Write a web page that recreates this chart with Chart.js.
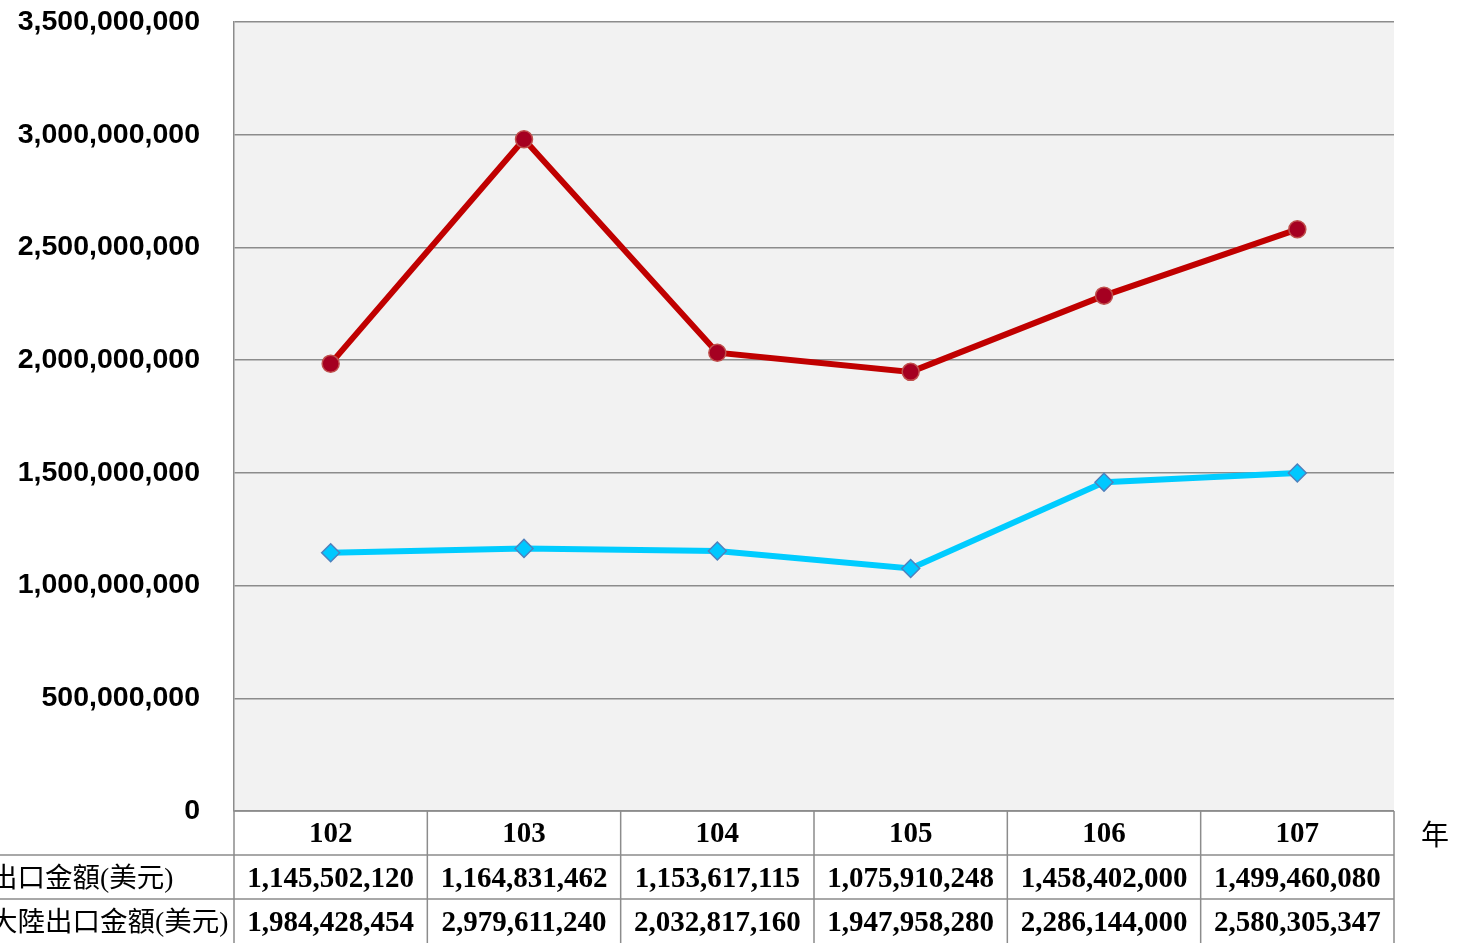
<!DOCTYPE html>
<html>
<head>
<meta charset="utf-8">
<title>出口金額</title>
<script src="https://cdn.jsdelivr.net/npm/chart.js"></script>
<style>
  html, body { margin: 0; padding: 0; background: #fff; }
  #wrap { width: 1461px; height: 943px; }
</style>
</head>
<body>
<div id="wrap"><canvas id="chart" width="1461" height="943"></canvas></div>
<script>
const years = ["102", "103", "104", "105", "106", "107"];
const rowLabels = ["出口金額(美元)", "大陸出口金額(美元)"];
const exportTotal = [1145502120, 1164831462, 1153617115, 1075910248, 1458402000, 1499460080];
const exportMainland = [1984428454, 2979611240, 2032817160, 1947958280, 2286144000, 2580305347];
const yTicks = [0, 500000000, 1000000000, 1500000000, 2000000000, 2500000000, 3000000000, 3500000000];

const fmt = v => v.toLocaleString("en-US");
const lineGray = "#8c8c8c";
const rowH = 44;

const plotBg = {
  id: "plotBg",
  beforeDraw(chart) {
    const { ctx, chartArea: a } = chart;
    ctx.save();
    ctx.fillStyle = "#f2f2f2";
    ctx.fillRect(a.left, a.top, a.right - a.left, a.bottom - a.top);
    ctx.restore();
  }
};

// data table under the plot, columns follow the x scale
const dataTable = {
  id: "dataTable",
  afterDraw(chart) {
    const { ctx, chartArea: a, scales: { x } } = chart;
    const colW = (a.right - a.left) / years.length;
    ctx.save();
    ctx.strokeStyle = lineGray;
    ctx.lineWidth = 1.5;
    ctx.beginPath();
    for (let i = 0; i <= years.length; i++) {
      const px = a.left + i * colW;
      ctx.moveTo(px, a.bottom);
      ctx.lineTo(px, a.bottom + rowH * 3);
    }
    ctx.moveTo(a.left, a.bottom);
    ctx.lineTo(a.right, a.bottom);
    ctx.moveTo(0, a.bottom + rowH);
    ctx.lineTo(a.right, a.bottom + rowH);
    ctx.moveTo(0, a.bottom + rowH * 2);
    ctx.lineTo(a.right, a.bottom + rowH * 2);
    ctx.stroke();

    ctx.fillStyle = "#000";
    ctx.textBaseline = "middle";
    ctx.textAlign = "center";
    ctx.font = "bold 29px 'Liberation Serif', serif";
    years.forEach((y, i) => {
      const cx = x.getPixelForValue(i);
      ctx.fillText(y, cx, a.bottom + rowH * 0.5 + 2);
      ctx.fillText(fmt(exportTotal[i]), cx, a.bottom + rowH * 1.5 + 3);
      ctx.fillText(fmt(exportMainland[i]), cx, a.bottom + rowH * 2.5 + 3);
    });

    ctx.textAlign = "left";
    ctx.font = "27.5px 'Liberation Serif', 'Noto Sans CJK TC', serif";
    ctx.fillText(rowLabels[0], -10, a.bottom + rowH * 1.5 + 3);
    ctx.fillText(rowLabels[1], -10, a.bottom + rowH * 2.5 + 3);

    ctx.font = "28px 'Noto Sans CJK TC', sans-serif";
    ctx.textAlign = "center";
    ctx.fillText("年", 1435, a.bottom + rowH * 0.5 + 1);
    ctx.restore();
  }
};

new Chart(document.getElementById("chart"), {
  type: "line",
  data: {
    labels: years,
    datasets: [
      {
        label: rowLabels[1],
        data: exportMainland,
        borderColor: "#c00000",
        borderWidth: 6,
        pointStyle: "circle",
        pointRadius: 8.5,
        pointBackgroundColor: "#a50021",
        pointBorderColor: "#c0504d",
        pointBorderWidth: 1.5,
        tension: 0
      },
      {
        label: rowLabels[0],
        data: exportTotal,
        borderColor: "#00ccff",
        borderWidth: 6,
        pointStyle: "rectRot",
        pointRadius: 9,
        pointBackgroundColor: "#00c8ff",
        pointBorderColor: "#4f81bd",
        pointBorderWidth: 1.5,
        tension: 0
      }
    ]
  },
  options: {
    responsive: false,
    animation: false,
    layout: { padding: { top: 22, right: 67, bottom: 132, left: 0 } },
    plugins: {
      legend: { display: false },
      tooltip: { enabled: false }
    },
    scales: {
      x: {
        type: "category",
        display: false,
        offset: true
      },
      y: {
        min: 0,
        max: 3500000000,
        afterFit(scale) {
          scale.width = 234;
          scale.paddingTop = 0;
          scale.paddingBottom = 0;
        },
        afterBuildTicks(scale) { scale.ticks = yTicks.map(v => ({ value: v })); },
        border: { display: true, color: lineGray, width: 1.5 },
        grid: { color: lineGray, lineWidth: 1.5, drawTicks: false },
        ticks: {
          padding: 34,
          color: "#000",
          font: { family: "'Liberation Sans', Arial, sans-serif", size: 28.5, weight: "bold" },
          callback: v => fmt(v)
        }
      }
    }
  },
  plugins: [plotBg, dataTable]
});
</script>
</body>
</html>
